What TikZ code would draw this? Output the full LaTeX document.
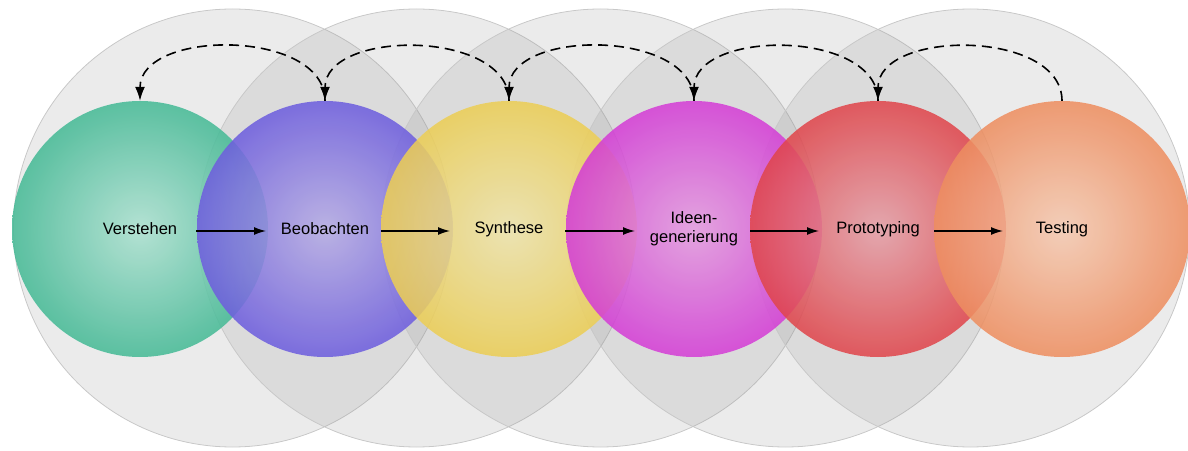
\documentclass[tikz,border=0pt]{standalone}
\usepackage{fontspec}
\setmainfont{Liberation Sans}
\usepackage{tikz}
\usetikzlibrary{arrows,arrows.meta}
\definecolor{mintInner}{RGB}{172, 224, 208}
\definecolor{mintOuter}{RGB}{ 70, 186, 150}
\definecolor{lilacInner}{RGB}{182, 172, 228}
\definecolor{lilacOuter}{RGB}{110,  94, 222}
\definecolor{sunInner}{RGB}{238, 228, 172}
\definecolor{sunOuter}{RGB}{236, 206,  86}
\definecolor{orchidInner}{RGB}{228, 156, 224}
\definecolor{orchidOuter}{RGB}{212,  62, 214}
\definecolor{coralInner}{RGB}{228, 160, 168}
\definecolor{coralOuter}{RGB}{224,  70,  76}
\definecolor{peachInner}{RGB}{244, 202, 178}
\definecolor{peachOuter}{RGB}{238, 142,  96}
\definecolor{haze}{RGB}{150, 150, 150}
\definecolor{hazeline}{RGB}{200, 200, 200}

\tikzset{
  phase/.style 2 args={circle, minimum size=256pt, inner sep=0pt, align=center,
                       shading=radial, inner color=#1, outer color=#2,
                       fill opacity=0.87, text opacity=1,
                       font=\fontsize{16.5}{19}\selectfont},
  loopback/.style={-{Latex[length=14pt, width=10pt]}, dash pattern=on 10pt off 6pt, line width=1.6pt},
  stepnext/.style={-{Latex[length=12pt, width=8pt]}, line width=1.3pt}
}

\begin{document}
\begin{tikzpicture}[x=1pt, y=1pt]
            \useasboundingbox (0,0) rectangle (1188,450);
            % grey rings behind the phases
            \filldraw[draw=hazeline, fill=haze, fill opacity=0.19, line width=0.8pt] ( 232.5,222) circle (219);
            \filldraw[draw=hazeline, fill=haze, fill opacity=0.19, line width=0.8pt] ( 416.5,222) circle (219);
            \filldraw[draw=hazeline, fill=haze, fill opacity=0.19, line width=0.8pt] ( 600.5,222) circle (219);
            \filldraw[draw=hazeline, fill=haze, fill opacity=0.19, line width=0.8pt] ( 785.5,222) circle (219);
            \filldraw[draw=hazeline, fill=haze, fill opacity=0.19, line width=0.8pt] ( 970.5,222) circle (219);
            % phases
            \node[phase={mintInner}{mintOuter}]     (verstehen)  at ( 140,221) {Verstehen};
            \node[phase={lilacInner}{lilacOuter}]   (beobachten) at ( 325,221) {Beobachten};
            \node[phase={sunInner}{sunOuter}]       (synthese)   at ( 509,221) {Synthese};
            \node[phase={orchidInner}{orchidOuter}] (ideen)      at ( 694,221) {Ideen-\\generierung};
            \node[phase={coralInner}{coralOuter}]   (proto)      at ( 878,221) {Prototyping};
            \node[phase={peachInner}{peachOuter}]   (testing)    at (1062,221) {Testing};
            % forward steps
            \draw[stepnext] ([shift={(56,-2)}]verstehen.center)  -- ([shift={(-59,-2)}]beobachten.center);
            \draw[stepnext] ([shift={(56,-2)}]beobachten.center) -- ([shift={(-59,-2)}]synthese.center);
            \draw[stepnext] ([shift={(56,-2)}]synthese.center)   -- ([shift={(-59,-2)}]ideen.center);
            \draw[stepnext] ([shift={(56,-2)}]ideen.center)      -- ([shift={(-59,-2)}]proto.center);
            \draw[stepnext] ([shift={(56,-2)}]proto.center)      -- ([shift={(-59,-2)}]testing.center);
            % iterations back
            \draw[loopback] (beobachten.north) to[out=90, in=90, looseness=1] (verstehen.north);
            \draw[loopback] (synthese.north)   to[out=90, in=90, looseness=1] (beobachten.north);
            \draw[loopback] (ideen.north)      to[out=90, in=90, looseness=1] (synthese.north);
            \draw[loopback] (proto.north)      to[out=90, in=90, looseness=1] (ideen.north);
            \draw[loopback] (testing.north)    to[out=90, in=90, looseness=1] (proto.north);
\end{tikzpicture}
\end{document}
